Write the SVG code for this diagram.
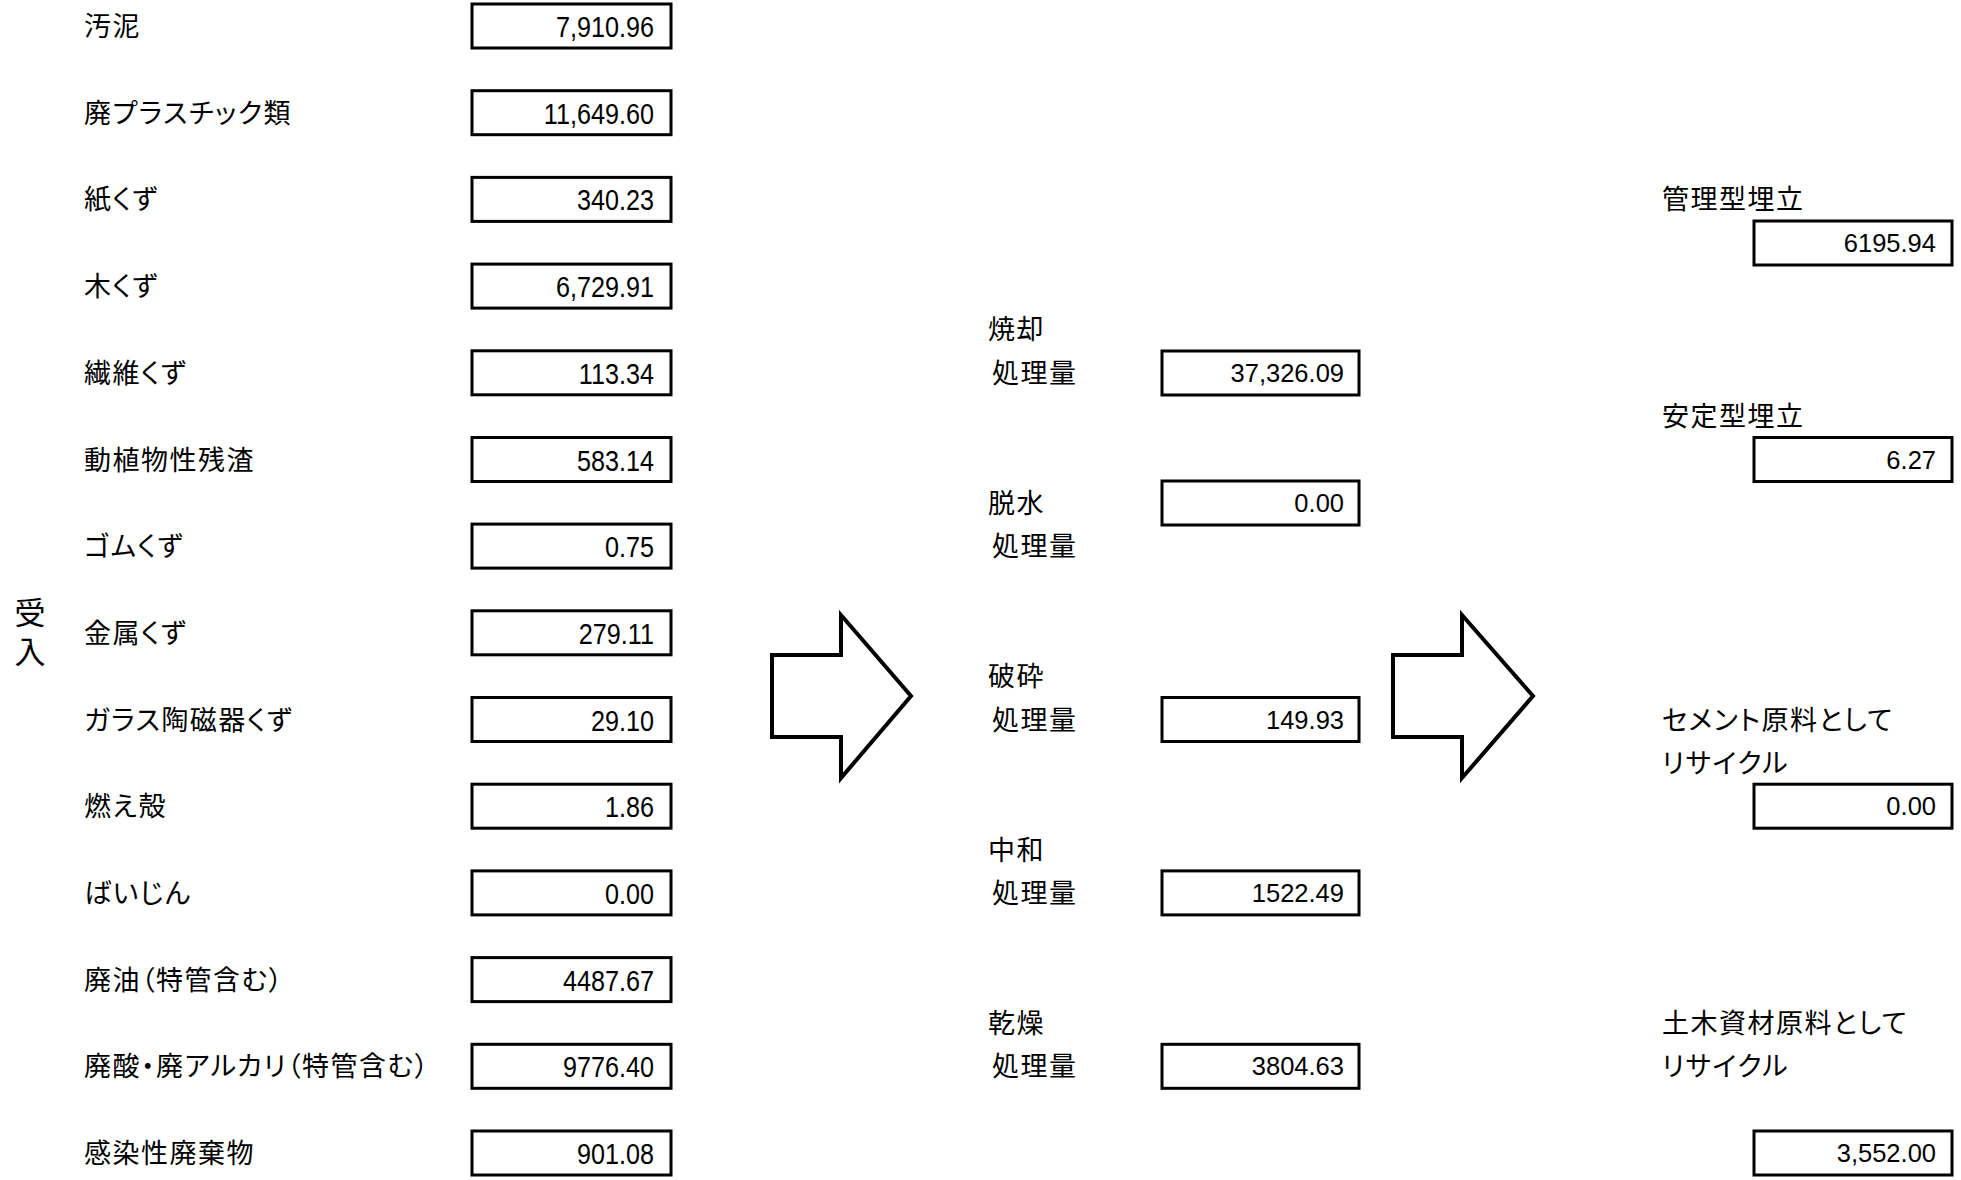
<svg xmlns="http://www.w3.org/2000/svg" width="1961" height="1180" viewBox="0 0 1961 1180">
<style>
.lbl{font-family:"Noto Sans CJK JP","Noto Sans",sans-serif;font-size:27px;letter-spacing:1.5px;font-feature-settings:"palt";fill:#000}
.vt{font-family:"Noto Sans CJK JP","Noto Sans",sans-serif;font-size:31px;fill:#000;writing-mode:vertical-rl;letter-spacing:8px}
.box{fill:#fff;stroke:#000;stroke-width:3}
.numc{font-family:"Liberation Sans",Arial,sans-serif;font-size:30px;fill:#000;text-anchor:end}
.num{font-family:"Liberation Sans",Arial,sans-serif;font-size:25.5px;fill:#000;text-anchor:end}
.arrow{fill:#fff;stroke:#000;stroke-width:4;stroke-linejoin:miter}
</style>
<rect width="1961" height="1180" fill="#fff"/>
<g id="title-ukeire">
<text class="vt" x="30" y="597">受入</text>
</g>
<g id="in-0"><text class="lbl" x="84" y="36">汚泥</text><rect class="box" x="472" y="4" width="199" height="44"/><text class="numc" transform="translate(654,37) scale(0.84,1)">7,910.96</text></g>
<g id="in-1"><text class="lbl" x="84" y="122.7">廃プラスチック類</text><rect class="box" x="472" y="90.7" width="199" height="44"/><text class="numc" transform="translate(654,123.7) scale(0.84,1)">11,649.60</text></g>
<g id="in-2"><text class="lbl" x="84" y="209.4">紙くず</text><rect class="box" x="472" y="177.4" width="199" height="44"/><text class="numc" transform="translate(654,210.4) scale(0.84,1)">340.23</text></g>
<g id="in-3"><text class="lbl" x="84" y="296.1">木くず</text><rect class="box" x="472" y="264.1" width="199" height="44"/><text class="numc" transform="translate(654,297.1) scale(0.84,1)">6,729.91</text></g>
<g id="in-4"><text class="lbl" x="84" y="382.8">繊維くず</text><rect class="box" x="472" y="350.8" width="199" height="44"/><text class="numc" transform="translate(654,383.8) scale(0.84,1)">113.34</text></g>
<g id="in-5"><text class="lbl" x="84" y="469.5">動植物性残渣</text><rect class="box" x="472" y="437.5" width="199" height="44"/><text class="numc" transform="translate(654,470.5) scale(0.84,1)">583.14</text></g>
<g id="in-6"><text class="lbl" x="84" y="556.1">ゴムくず</text><rect class="box" x="472" y="524.1" width="199" height="44"/><text class="numc" transform="translate(654,557.1) scale(0.84,1)">0.75</text></g>
<g id="in-7"><text class="lbl" x="84" y="642.8">金属くず</text><rect class="box" x="472" y="610.8" width="199" height="44"/><text class="numc" transform="translate(654,643.8) scale(0.84,1)">279.11</text></g>
<g id="in-8"><text class="lbl" x="84" y="729.5">ガラス陶磁器くず</text><rect class="box" x="472" y="697.5" width="199" height="44"/><text class="numc" transform="translate(654,730.5) scale(0.84,1)">29.10</text></g>
<g id="in-9"><text class="lbl" x="84" y="816.2">燃え殻</text><rect class="box" x="472" y="784.2" width="199" height="44"/><text class="numc" transform="translate(654,817.2) scale(0.84,1)">1.86</text></g>
<g id="in-10"><text class="lbl" x="84" y="902.9">ばいじん</text><rect class="box" x="472" y="870.9" width="199" height="44"/><text class="numc" transform="translate(654,903.9) scale(0.84,1)">0.00</text></g>
<g id="in-11"><text class="lbl" x="84" y="989.6">廃油（特管含む）</text><rect class="box" x="472" y="957.6" width="199" height="44"/><text class="numc" transform="translate(654,990.6) scale(0.84,1)">4487.67</text></g>
<g id="in-12"><text class="lbl" x="84" y="1076.3">廃酸・廃アルカリ（特管含む）</text><rect class="box" x="472" y="1044.3" width="199" height="44"/><text class="numc" transform="translate(654,1077.3) scale(0.84,1)">9776.40</text></g>
<g id="in-13"><text class="lbl" x="84" y="1163">感染性廃棄物</text><rect class="box" x="472" y="1131" width="199" height="44"/><text class="numc" transform="translate(654,1164) scale(0.84,1)">901.08</text></g>

<g id="proc-shokyaku"><text class="lbl" x="988" y="339.4">焼却</text><text class="lbl" x="992" y="382.8">処理量</text><rect class="box" x="1162" y="351" width="197" height="44"/><text class="num" x="1344" y="382">37,326.09</text></g>
<g id="proc-dassui"><text class="lbl" x="988" y="512.8">脱水</text><text class="lbl" x="992" y="556.1">処理量</text><rect class="box" x="1162" y="481" width="197" height="44"/><text class="num" x="1344" y="512">0.00</text></g>
<g id="proc-hasai"><text class="lbl" x="988" y="686.2">破砕</text><text class="lbl" x="992" y="729.5">処理量</text><rect class="box" x="1162" y="697.5" width="197" height="44"/><text class="num" x="1344" y="728.6">149.93</text></g>
<g id="proc-chuwa"><text class="lbl" x="988" y="859.6">中和</text><text class="lbl" x="992" y="902.9">処理量</text><rect class="box" x="1162" y="870.9" width="197" height="44"/><text class="num" x="1344" y="902">1522.49</text></g>
<g id="proc-kanso"><text class="lbl" x="988" y="1033">乾燥</text><text class="lbl" x="992" y="1076.3">処理量</text><rect class="box" x="1162" y="1044.3" width="197" height="44"/><text class="num" x="1344" y="1075.4">3804.63</text></g>

<g id="out-kanri"><text class="lbl" x="1662" y="209.4">管理型埋立</text><rect class="box" x="1754" y="221" width="198" height="44"/><text class="num" x="1936" y="252.1">6195.94</text></g>
<g id="out-antei"><text class="lbl" x="1662" y="426.2">安定型埋立</text><rect class="box" x="1754" y="437.5" width="198" height="44"/><text class="num" x="1936" y="468.6">6.27</text></g>
<g id="out-cement"><text class="lbl" x="1662" y="729.5">セメント原料として</text><text class="lbl" x="1662" y="772.8">リサイクル</text><rect class="box" x="1754" y="784.2" width="198" height="44"/><text class="num" x="1936" y="815.3">0.00</text></g>
<g id="out-doboku"><text class="lbl" x="1662" y="1033">土木資材原料として</text><text class="lbl" x="1662" y="1076.3">リサイクル</text><rect class="box" x="1754" y="1131" width="198" height="44"/><text class="num" x="1936" y="1162.1">3,552.00</text></g>

<g id="connectors">
<polygon class="arrow" points="772,655 841,655 841,615 911,696 841,778 841,737 772,737"/>
<polygon class="arrow" points="1393,655 1462,655 1462,615 1533,696 1462,778 1462,737 1393,737"/>
</g>
</svg>
